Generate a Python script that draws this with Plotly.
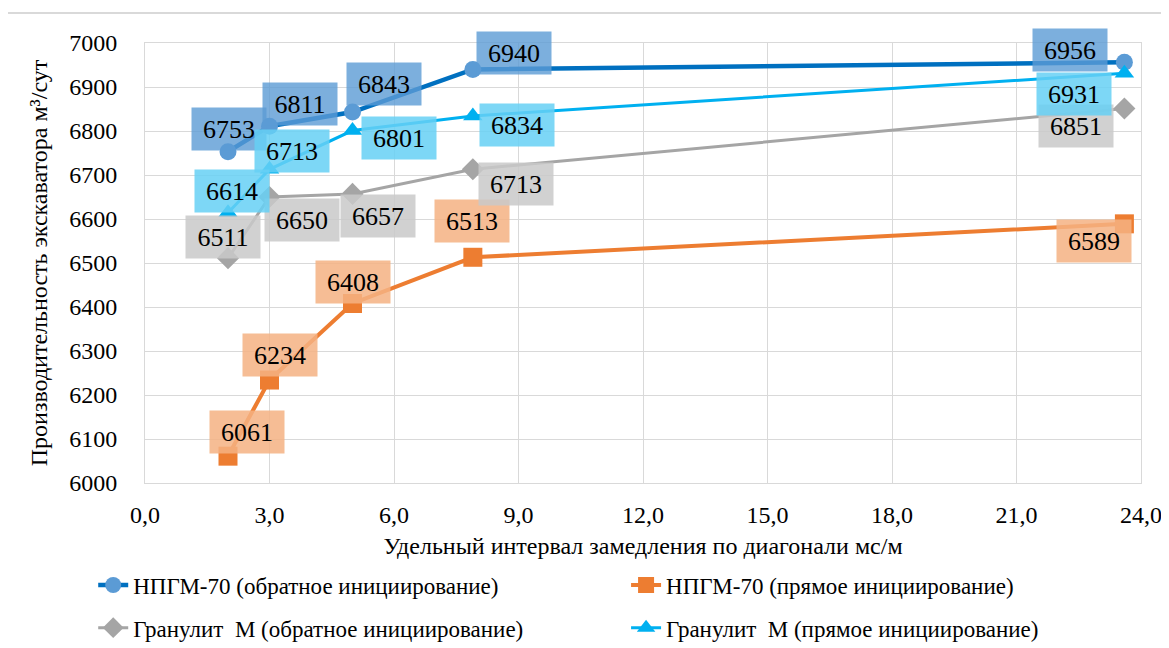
import plotly.graph_objects as go

# ---- data ----
x_vals = [2.0, 3.0, 5.0, 7.9, 23.6]
npgm_back = [6753, 6811, 6843, 6940, 6956]
npgm_direct = [6061, 6234, 6408, 6513, 6589]
granulit_back = [6511, 6650, 6657, 6713, 6851]
granulit_direct = [6614, 6713, 6801, 6834, 6931]

names = [
    "НПГМ-70 (обратное инициирование)",
    "НПГМ-70 (прямое инициирование)",
    "Гранулит  М (обратное инициирование)",
    "Гранулит  М (прямое инициирование)",
]
x_title = "Удельный интервал замедления по диагонали мс/м"
y_title = "Производительность экскаватора м³/сут"
x_ticks = [0, 3, 6, 9, 12, 15, 18, 21, 24]
x_ticktext = [f"{v:.1f}".replace(".", ",") for v in x_ticks]
y_ticks = list(range(6000, 7001, 100))

# label offsets (pixels, x right / y up) for data labels
off_npgm_back = [(1, 23), (30, 22), (31, 28), (41, 16), (-54, 12)]
off_npgm_direct = [(19, 24), (10, 25), (0, 21), (-1, 36), (-30, -17)]
off_gran_back = [(-5, 21), (32, -23), (25, -22), (43, -15), (-48, -17)]
off_gran_direct = [(4, 22), (22, 18), (46, -7), (44, -9), (-50, -21)]

FONT = "serif"

series = [
    dict(y=npgm_back, name=names[0], line=dict(color="#0070C0", width=4.5),
         marker=dict(symbol="circle", size=17, color="#5B9BD5"),
         box="rgba(91,155,213,0.8)", off=off_npgm_back, legend="legend"),
    dict(y=npgm_direct, name=names[1], line=dict(color="#ED7D31", width=4),
         marker=dict(symbol="square", size=19, color="#ED7D31"),
         box="rgba(244,177,131,0.85)", off=off_npgm_direct, legend="legend2"),
    dict(y=granulit_back, name=names[2], line=dict(color="#A5A5A5", width=3),
         marker=dict(symbol="diamond", size=17, color="#A5A5A5"),
         box="rgba(201,201,201,0.85)", off=off_gran_back, legend="legend3"),
    dict(y=granulit_direct, name=names[3], line=dict(color="#00B0F0", width=3),
         marker=dict(symbol="triangle-up", size=17, color="#00B0F0"),
         box="rgba(102,208,245,0.85)", off=off_gran_direct, legend="legend4"),
]

fig = go.Figure()
for s in series:
    fig.add_trace(go.Scatter(x=x_vals, y=s["y"], mode="lines+markers", name=s["name"],
                             line=s["line"], marker=s["marker"], legend=s["legend"]))
    for xv, yv, (dx, dy) in zip(x_vals, s["y"], s["off"]):
        fig.add_annotation(x=xv, y=yv, xref="x", yref="y", text=str(yv),
                           showarrow=False, xshift=dx, yshift=dy,
                           bgcolor=s["box"], width=70, height=38, borderpad=2,
                           font=dict(family=FONT, size=26))

def leg(x, y):
    return dict(orientation="h", xanchor="left", yanchor="middle", x=x, y=y,
                font=dict(family=FONT, size=23),
                bgcolor="rgba(0,0,0,0)")

fig.update_layout(
    width=1161, height=640,
    margin=dict(l=137, r=28, t=35, b=165, autoexpand=False),
    plot_bgcolor="white",
    font=dict(family=FONT, size=24, color="black"),
    showlegend=True,
    legend=leg(-0.052, -0.232),
    legend2=leg(0.483, -0.232),
    legend3=leg(-0.052, -0.329),
    legend4=leg(0.483, -0.329),
)
fig.add_shape(type="rect", xref="paper", yref="paper",
              x0=-0.1386, x1=1.04, y0=-0.42, y1=1.068,
              line=dict(color="#D9D9D9", width=2), layer="below")
fig.update_xaxes(range=[0, 24], tickvals=x_ticks, ticktext=x_ticktext,
                 showgrid=True, gridcolor="#D9D9D9", gridwidth=1,
                 showline=True, linecolor="#D9D9D9", mirror=True, zeroline=False,
                 ticks="outside", ticklen=10, tickcolor="rgba(0,0,0,0)",
                 tickfont=dict(family=FONT, size=24),
                 title=dict(text=x_title, font=dict(family=FONT, size=24), standoff=10))
fig.update_yaxes(range=[6000, 7000], tickvals=y_ticks,
                 showgrid=True, gridcolor="#D9D9D9", gridwidth=1,
                 showline=True, linecolor="#D9D9D9", mirror=True, zeroline=False,
                 ticks="outside", ticklen=22, tickcolor="rgba(0,0,0,0)",
                 tickfont=dict(family=FONT, size=24),
                 title=dict(text=y_title, font=dict(family=FONT, size=24), standoff=14))

fig.write_html("out.html")
